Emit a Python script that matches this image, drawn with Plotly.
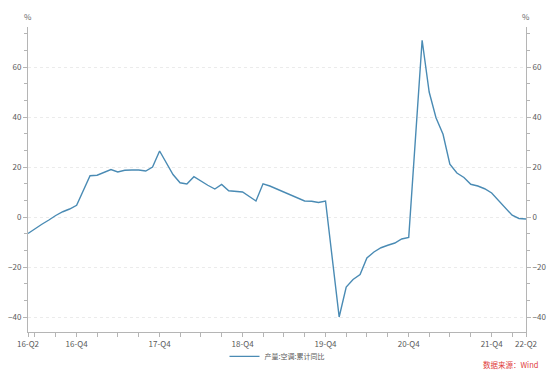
import pandas as pd
import plotly.graph_objects as go

# ---- data ----
months = [
    "2016-05", "2016-06", "2016-07", "2016-08", "2016-09", "2016-10", "2016-11", "2016-12",
    "2017-02", "2017-03", "2017-04", "2017-05", "2017-06", "2017-07", "2017-08", "2017-09", "2017-10", "2017-11", "2017-12",
    "2018-02", "2018-03", "2018-04", "2018-05", "2018-06", "2018-07", "2018-08", "2018-09", "2018-10", "2018-11", "2018-12",
    "2019-02", "2019-03", "2019-04", "2019-05", "2019-06", "2019-07", "2019-08", "2019-09", "2019-10", "2019-11", "2019-12",
    "2020-02", "2020-03", "2020-04", "2020-05", "2020-06", "2020-07", "2020-08", "2020-09", "2020-10", "2020-11", "2020-12",
    "2021-02", "2021-03", "2021-04", "2021-05", "2021-06", "2021-07", "2021-08", "2021-09", "2021-10", "2021-11", "2021-12",
    "2022-02", "2022-03", "2022-04", "2022-05",
]
yoy = [
    -6.6, -4.6, -2.9, -1.2, 0.6, 2.1, 3.2, 4.7,
    16.5, 16.7, 17.9, 19.0, 18.0, 18.7, 18.8, 18.8, 18.4, 20.0, 26.4,
    17.0, 13.7, 13.2, 16.1, 14.3, 12.7, 11.2, 13.0, 10.5, 10.2, 10.0,
    6.4, 13.3, 12.4, 11.2, 10.0, 8.7, 7.6, 6.4, 6.3, 5.8, 6.4,
    -40.0, -28.0, -25.0, -23.0, -16.4, -14.0, -12.3, -11.3, -10.4, -8.8, -8.2,
    70.7, 50.0, 39.7, 33.1, 21.1, 17.6, 15.8, 13.1, 12.4, 11.3, 9.6,
    4.0, 0.7, -0.6, -0.8,
]
series_name = "产量:空调:累计同比"

tick_dates = [
    "2016-05-31", "2016-06-30", "2016-09-30", "2016-12-31",
    "2017-03-31", "2017-06-30", "2017-09-30", "2017-12-31",
    "2018-03-31", "2018-06-30", "2018-09-30", "2018-12-31",
    "2019-03-31", "2019-06-30", "2019-09-30", "2019-12-31",
    "2020-03-31", "2020-06-30", "2020-09-30", "2020-12-31",
    "2021-03-31", "2021-06-30", "2021-09-30", "2021-12-31",
    "2022-03-31", "2022-05-31",
]
tick_labels = [
    "16-Q2", "", "", "16-Q4",
    "", "", "", "17-Q4",
    "", "", "", "18-Q4",
    "", "", "", "19-Q4",
    "", "", "", "20-Q4",
    "", "", "", "21-Q4",
    "", "22-Q2",
]
y_ticks = [-40, -20, 0, 20, 40, 60]

dates = (pd.to_datetime(months, format="%Y-%m") + pd.offsets.MonthEnd(0)).strftime("%Y-%m-%d").tolist()

FONT = "Noto Sans CJK SC"
GRAY = "#595959"
AXC = "#b5b5b5"

fig = go.Figure()
fig.add_trace(go.Scatter(
    x=dates, y=yoy, mode="lines", name=series_name,
    line=dict(color="#4a8bb4", width=1.4),
))
fig.add_trace(go.Scatter(
    x=dates, y=yoy, mode="lines", yaxis="y2", showlegend=False,
    line=dict(color="rgba(0,0,0,0)", width=0), hoverinfo="skip",
))

yax = dict(
    range=[-46, 76], tickvals=y_ticks, ticks="outside", ticklen=4, tickcolor=AXC,
    showline=True, linecolor=AXC, linewidth=1, zeroline=False,
    tickfont=dict(size=8, color=GRAY, family=FONT),
    minor=dict(dtick=20 / 3, tick0=0, ticks="outside", ticklen=3, tickcolor=AXC, showgrid=False),
)

fig.update_layout(
    width=554, height=373,
    margin=dict(l=28, r=28, t=27, b=41, autoexpand=False),
    paper_bgcolor="white", plot_bgcolor="white",
    font=dict(family=FONT, size=8, color=GRAY),
    xaxis=dict(
        type="date", range=["2016-05-31", "2022-05-31"],
        tickvals=tick_dates, ticktext=tick_labels, ticks="outside", ticklen=4, tickcolor=AXC,
        showline=True, linecolor=AXC, linewidth=1, showgrid=False, zeroline=False,
        tickfont=dict(size=8, color=GRAY, family=FONT), tickangle=0,
    ),
    yaxis=dict(**yax, showgrid=True, gridcolor="#ebebeb", griddash="dot", gridwidth=1, side="left"),
    yaxis2=dict(**yax, overlaying="y", side="right", showgrid=False),
    legend=dict(
        orientation="h", x=0.5, xanchor="center", y=-0.08, yanchor="middle",
        font=dict(size=7, color=GRAY, family=FONT), itemwidth=30,
        bgcolor="rgba(0,0,0,0)",
    ),
    showlegend=True,
    annotations=[
        dict(text="%", xref="paper", yref="paper", x=0, y=1.033, showarrow=False,
             xanchor="center", yanchor="middle", font=dict(size=8, color="#666666", family=FONT)),
        dict(text="%", xref="paper", yref="paper", x=1, y=1.033, showarrow=False,
             xanchor="center", yanchor="middle", font=dict(size=8, color="#666666", family=FONT)),
        dict(text="数据来源：Wind", xref="paper", yref="paper", x=1.028, y=-0.108, showarrow=False,
             xanchor="right", yanchor="middle", font=dict(size=7.5, color="#e03a3a", family=FONT)),
    ],
)

fig.write_html("out.html")
